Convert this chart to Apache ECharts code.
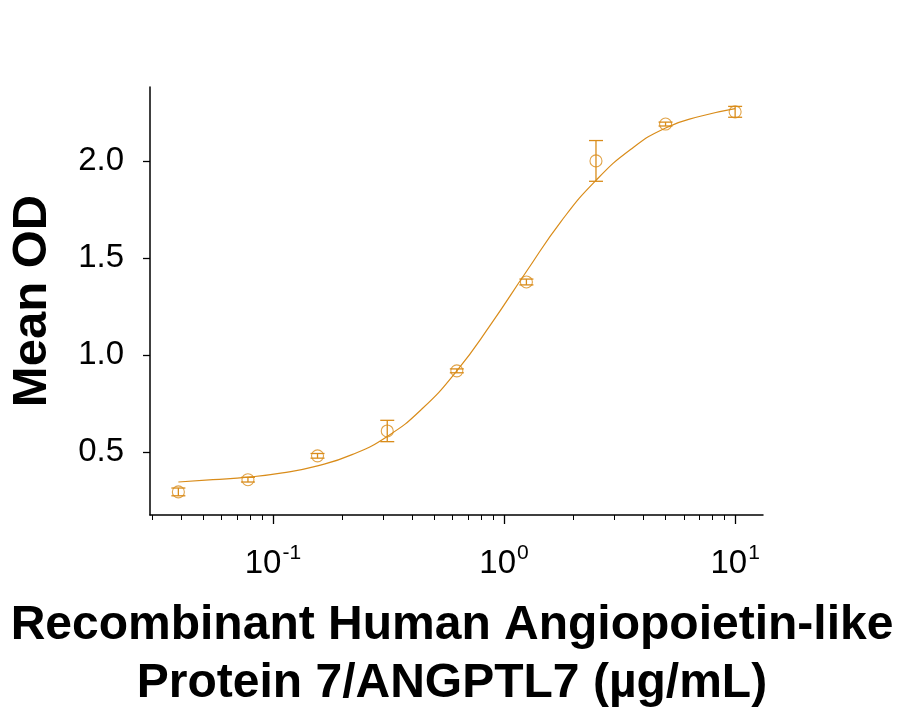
<!DOCTYPE html>
<html>
<head>
<meta charset="utf-8">
<script src="https://cdn.jsdelivr.net/npm/echarts@6/dist/echarts.min.js"></script>
<style>
  html, body { margin: 0; padding: 0; background: #fff; }
  #main { width: 907px; height: 711px; }
</style>
</head>
<body>
<div id="main"></div>
<script>
// concentrations (µg/mL) and measured OD
var conc = [0.039, 0.078, 0.156, 0.3125, 0.625, 1.25, 2.5, 5, 10];
var meanOD = [0.294, 0.357, 0.48, 0.608, 0.918, 1.376, 2.0, 2.19, 2.253];
var errOD = [0.02, 0.012, 0.012, 0.055, 0.01, 0.015, 0.105, 0.01, 0.028];

// fitted curve
var fitX = [0.039, 0.055, 0.078, 0.11, 0.156, 0.22, 0.3125, 0.44, 0.625, 0.88, 1.25, 1.77, 2.5, 3.54, 5, 7.07, 10];
var fitY = [0.345, 0.357, 0.37, 0.392, 0.428, 0.486, 0.58, 0.72, 0.918, 1.16, 1.43, 1.69, 1.90, 2.06, 2.17, 2.23, 2.27];

var yTicks = [0.5, 1.0, 1.5, 2.0];
var xMajor = [0.1, 1, 10];
var xMinor = [0.03, 0.04, 0.05, 0.06, 0.07, 0.08, 0.09, 0.2, 0.3, 0.4, 0.5, 0.6, 0.7, 0.8, 0.9, 2, 3, 4, 5, 6, 7, 8, 9];
var xTitle = ['Recombinant Human Angiopoietin-like', 'Protein 7/ANGPTL7 (µg/mL)'];

var orange = '#d98c1a';
var font = 'Liberation Sans, Arial';

var chart = echarts.init(document.getElementById('main'));

var pts = conc.map(function (c, i) { return [c, meanOD[i]]; });
var bars = conc.map(function (c, i) { return [c, meanOD[i] - errOD[i], meanOD[i] + errOD[i]]; });
var fit = fitX.map(function (c, i) { return [c, fitY[i]]; });

var xBase = {
  type: 'log',
  logBase: 10,
  min: 0.0294,
  max: 13.2,
  gridIndex: 0,
  position: 'bottom',
  splitLine: { show: false }
};

var option = {
  animation: false,
  backgroundColor: '#fff',
  grid: { left: 150, top: 87, right: 144, bottom: 196 },
  xAxis: [
    Object.assign({}, xBase, {
      axisLine: { show: true, lineStyle: { color: '#000', width: 1.5 } },
      axisTick: { show: true, customValues: xMajor, length: 9, lineStyle: { color: '#000', width: 1.3 } },
      axisLabel: {
        customValues: xMajor,
        margin: 28,
        formatter: function (v) {
          var e = Math.round(Math.log10(v));
          return '{b|10}{s|' + e + '}';
        },
        rich: {
          b: { fontFamily: font, fontSize: 33, color: '#000', verticalAlign: 'bottom' },
          s: { fontFamily: font, fontSize: 21, color: '#000', verticalAlign: 'top', padding: [0, 0, 16, 1] }
        }
      }
    }),
    Object.assign({}, xBase, {
      axisLine: { show: false },
      axisTick: { show: true, customValues: xMinor, length: 5, lineStyle: { color: '#000', width: 1 } },
      axisLabel: { show: false }
    })
  ],
  yAxis: {
    type: 'value',
    min: 0.175,
    max: 2.381,
    splitLine: { show: false },
    name: 'Mean OD',
    nameLocation: 'middle',
    nameGap: 93,
    nameRotate: 90,
    nameTextStyle: { fontFamily: font, fontWeight: 'bold', fontSize: 49, color: '#000' },
    axisLine: { show: true, lineStyle: { color: '#000', width: 1.5 } },
    axisTick: { show: true, customValues: yTicks, length: 7, lineStyle: { color: '#000', width: 1.3 } },
    axisLabel: {
      customValues: yTicks,
      margin: 26,
      fontFamily: font,
      fontSize: 33,
      color: '#000',
      formatter: function (v) { return v.toFixed(1); }
    }
  },
  graphic: xTitle.map(function (t, i) {
    return {
      type: 'text',
      style: {
        text: t,
        x: 452,
        y: 626 + i * 58,
        align: 'center',
        verticalAlign: 'middle',
        fontFamily: font,
        fontWeight: 'bold',
        fontSize: 48,
        fill: '#000'
      }
    };
  }),
  series: [
    {
      type: 'line',
      data: fit,
      smooth: true,
      symbol: 'none',
      lineStyle: { color: orange, width: 1.2 },
      z: 2
    },
    {
      type: 'custom',
      data: bars,
      renderItem: function (params, api) {
        var x = api.value(0);
        var lo = api.coord([x, api.value(1)]);
        var hi = api.coord([x, api.value(2)]);
        var w = 7;
        var st = { stroke: orange, lineWidth: 1.3 };
        return {
          type: 'group',
          children: [
            { type: 'line', shape: { x1: lo[0], y1: lo[1], x2: hi[0], y2: hi[1] }, style: st },
            { type: 'line', shape: { x1: lo[0] - w, y1: lo[1], x2: lo[0] + w, y2: lo[1] }, style: st },
            { type: 'line', shape: { x1: hi[0] - w, y1: hi[1], x2: hi[0] + w, y2: hi[1] }, style: st }
          ]
        };
      },
      z: 3
    },
    {
      type: 'scatter',
      data: pts,
      symbol: 'circle',
      symbolSize: 12,
      itemStyle: { color: 'rgba(255,255,255,0)', borderColor: orange, borderWidth: 1.1 },
      z: 4
    }
  ]
};

chart.setOption(option);
</script>
</body>
</html>
